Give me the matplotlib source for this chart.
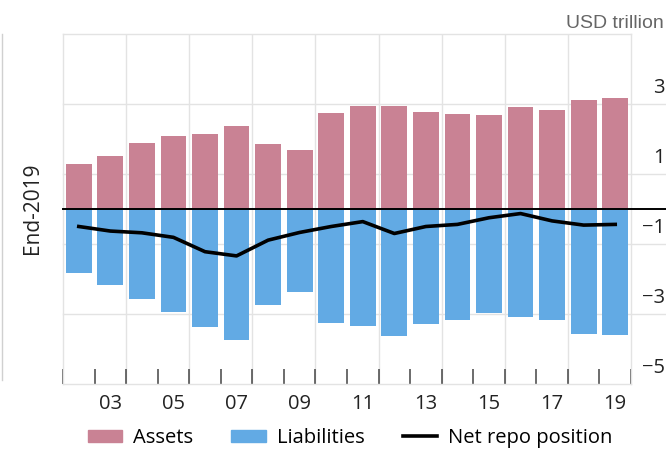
import matplotlib
matplotlib.use("Agg")
import matplotlib.pyplot as plt
from matplotlib.lines import Line2D
from matplotlib.patches import Patch

# Data, USD trillion
years = list(range(2002, 2020))
assets = [1.29, 1.51, 1.90, 2.09, 2.13, 2.38, 1.87, 1.68, 2.73,
          2.95, 2.93, 2.78, 2.72, 2.69, 2.91, 2.82, 3.11, 3.17]
liabilities = [-1.82, -2.18, -2.58, -2.94, -3.38, -3.74, -2.74, -2.38, -3.25,
               -3.34, -3.62, -3.29, -3.17, -2.97, -3.09, -3.17, -3.57, -3.59]
net_repo = [-0.50, -0.63, -0.68, -0.81, -1.22, -1.34, -0.89, -0.67, -0.50,
            -0.36, -0.70, -0.50, -0.44, -0.25, -0.13, -0.34, -0.46, -0.44]
right_ticks = [3, 1, -1, -3, -5]
right_labels = ["3", "1", "\u22121", "\u22123", "\u22125"]
xlabel_years = [2003, 2005, 2007, 2009, 2011, 2013, 2015, 2017, 2019]

c_assets = "#c98294"
c_liab = "#62aae4"
grid_c = "#e3e3e3"
font = "Open Sans"

fig = plt.figure(figsize=(6.66, 4.5), dpi=100)
ax = fig.add_axes([63 / 666, 1 - 384 / 450, (631 - 63) / 666, 350 / 450])

centers = [y + 0.5 for y in years]
ax.bar(centers, assets, width=0.82, color=c_assets, zorder=2)
ax.bar(centers, liabilities, width=0.82, color=c_liab, zorder=2)
ax.plot(centers, net_repo, color="black", lw=2.6, zorder=4)

ax.set_xlim(2002, 2020)
ax.set_ylim(-5, 5)

# grid: vertical every two years, horizontal at odd values (extended to the right)
for x in range(2004, 2020, 2):
    ax.axvline(x, color=grid_c, lw=1, zorder=1)
for v in [3, 1, -1, -3]:
    ax.axhline(v, xmin=0, xmax=1.06, color=grid_c, lw=1, zorder=1, clip_on=False)
ax.axhline(0, xmin=0, xmax=1.07, color="black", lw=1.4, zorder=3, clip_on=False)

for s in ax.spines.values():
    s.set_color(grid_c)
    s.set_linewidth(1)

# ticks at every year boundary, labels centred on odd years
ax.set_yticks([])
ax.set_xticks(range(2002, 2021))
ax.set_xticklabels([])
ax.tick_params(axis="x", direction="in", length=11, width=1.1, color="#444444")
for y in xlabel_years:
    ax.annotate(f"{y % 100:02d}", xy=(y + 0.5, 0), xycoords=("data", "axes fraction"),
                xytext=(0, -7.5), textcoords="offset points", ha="center", va="top",
                fontsize=14.5, family=font, color="#222222")

for v, lab in zip(right_ticks, right_labels):
    ax.annotate(lab, xy=(1, v), xycoords=("axes fraction", "data"),
                xytext=(24.5, 11.5), textcoords="offset points", ha="right", va="center",
                fontsize=14.5, family=font, color="#222222", annotation_clip=False)

fig.text(664 / 666, 1 - 24 / 450, "USD trillion", ha="right", va="center",
         fontsize=14, family="Liberation Sans", color="#666666")
fig.text(33 / 666, 1 - 208 / 450, "End-2019", rotation=90, ha="center", va="center",
         fontsize=15, family=font, color="#222222")
fig.add_artist(Line2D([1.5 / 666, 1.5 / 666], [1 - 34 / 450, 1 - 380 / 450],
                      color="#d0d0d0", lw=1, transform=fig.transFigure))

handles = [Patch(color=c_assets), Patch(color=c_liab),
           Line2D([], [], color="black", lw=2.6)]
fig.legend(handles, ["Assets", "Liabilities", "Net repo position"],
           loc="center", bbox_to_anchor=(350 / 666, 1 - 438 / 450), ncol=3,
           frameon=False, prop={"family": font, "size": 14.5},
           handlelength=1.7, handleheight=0.6, handletextpad=0.55, columnspacing=1.9)

fig.savefig("out.png", dpi=100)
